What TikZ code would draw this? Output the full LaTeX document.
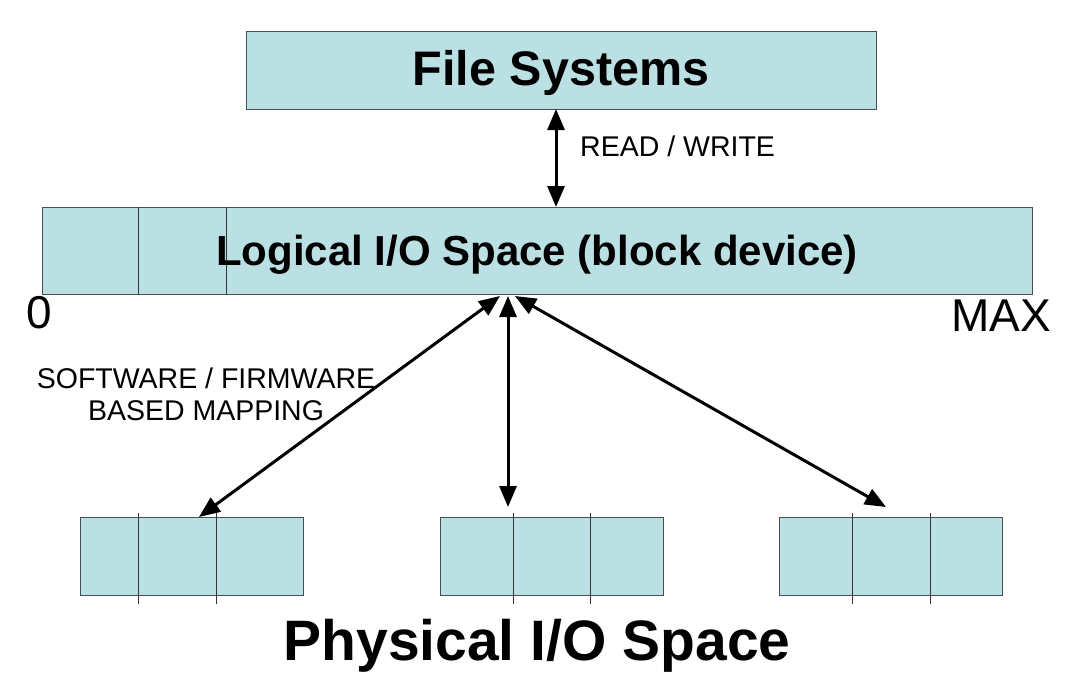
\documentclass[tikz,border=0pt]{standalone}
\usepackage{fontspec}
\setmainfont{Liberation Sans}
\usetikzlibrary{arrows.meta}
\definecolor{boxfill}{RGB}{187,224,227}
\definecolor{boxline}{RGB}{70,80,85}
\begin{document}
\begin{tikzpicture}[x=1pt,y=-1pt,
  blk/.style={fill=boxfill,draw=boxline,line width=1pt},
  divline/.style={draw=black!80,line width=0.9pt},
  arr/.style={line width=3pt,{Triangle[length=21pt,width=17pt]}-{Triangle[length=21pt,width=17pt]}},
  big/.style={font=\bfseries\fontsize{48.5}{52}\selectfont,anchor=base,inner sep=0pt},
  mid/.style={font=\bfseries\fontsize{42}{46}\selectfont,anchor=base,inner sep=0pt},
  lab/.style={font=\fontsize{28.5}{32}\selectfont,anchor=base,inner sep=0pt},
  num/.style={font=\fontsize{46}{50}\selectfont,anchor=base,inner sep=0pt}]
\useasboundingbox (0,0) rectangle (1081,685);
% File systems box
\draw[blk] (246,32) rectangle (876,109);
\node[big] (fs) at (561,85) {File Systems};
\coordinate (fsb) at (556,109);
% Logical box
\draw[blk] (42,207) rectangle (1032,294);
\draw[divline] (138,207) -- (138,294);
\draw[divline] (226,207) -- (226,294);
\node[mid] (lg) at (537,265) {Logical I/O Space (block device)};
\coordinate (lgt) at (556,207);
\node[num] (zero) at (39,328) {0};
\node[num] (max) at (1001,331) {MAX};
% read/write
\draw[arr] (fsb) -- (lgt);
\node[lab,anchor=base west] (rw) at (580,156) {READ / WRITE};
% physical boxes
\foreach \n/\x in {p1/80,p2/440,p3/779}{
  \draw[blk] (\x,517) rectangle ++(223,78);
}
\draw[divline] (138,513) -- (138,604);
\draw[divline] (216,513) -- (216,604);
\draw[divline] (513,513) -- (513,604);
\draw[divline] (590,513) -- (590,604);
\draw[divline] (852,513) -- (852,604);
\draw[divline] (930,513) -- (930,604);
% mapping arrows
\coordinate (la) at (500,296);
\coordinate (lb) at (508,296);
\coordinate (lc) at (515,296);
\coordinate (t1) at (199,517);
\coordinate (t2) at (508,507);
\coordinate (t3) at (886,507);
\draw[arr] (la) -- (t1);
\draw[arr] (lb) -- (t2);
\draw[arr] (lc) -- (t3);
\node[lab] (sw1) at (206,388) {SOFTWARE / FIRMWARE};
\node[lab] (sw2) at (206,420) {BASED MAPPING};
\node[big,font=\bfseries\fontsize{57}{60}\selectfont] (ph) at (537,660) {Physical I/O Space};
\end{tikzpicture}
\end{document}
